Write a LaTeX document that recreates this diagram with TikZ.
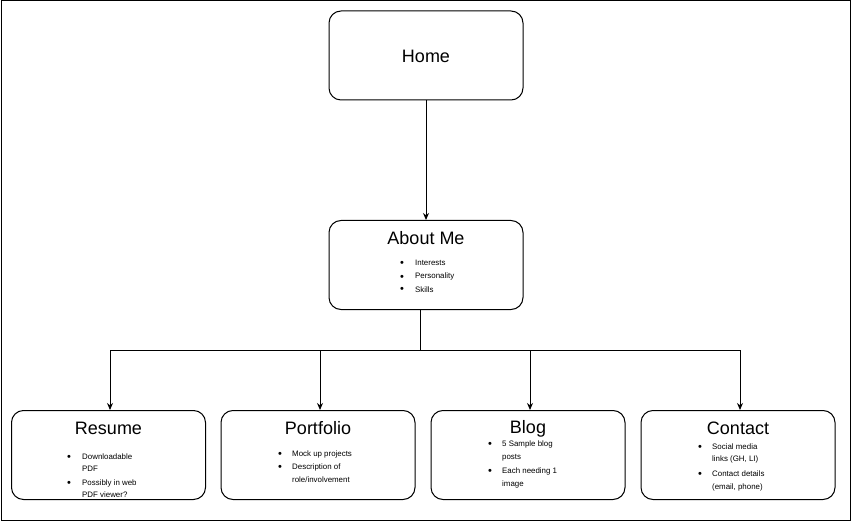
\documentclass[tikz,border=0pt]{standalone}
\usepackage{fontspec}
\setmainfont{Liberation Sans}
\usetikzlibrary{arrows.meta}
\begin{document}
\begin{tikzpicture}[x=1pt,y=-1pt,
  box/.style={draw,line width=1pt,rounded corners=12pt,minimum width=194pt,minimum height=89pt,inner sep=0pt},
  ttl/.style={font=\fontsize{18}{20}\selectfont},
  itm/.style={anchor=base west,inner sep=0pt,font=\fontsize{7.9}{9}\selectfont},
  bul/.style={anchor=base,inner sep=0pt,font=\fontsize{11}{12}\selectfont},
  conn/.style={line width=1pt},
  arr/.style={conn,-{Stealth[length=7pt,width=6pt]}}]
\useasboundingbox (0,0) rectangle (851,521);
\draw[line width=1pt] (1,1) rectangle (850,520);
% boxes
\node[box] (home) at (426,55.5) {};
\node[box] (about) at (426,265) {};
\node[box] (resume) at (108.5,455) {};
\node[box] (portfolio) at (318,455) {};
\node[box] (blog) at (528,455) {};
\node[box] (contact) at (738,455) {};
% titles
\node[ttl] (thome) at (426,56) {Home};
\node[ttl] (tabout) at (426,238.5) {About Me};
\node[ttl] (tres) at (108.5,428.5) {Resume};
\node[ttl] (tport) at (318,428.5) {Portfolio};
\node[ttl] (tblog) at (528,428.5) {Blog};
\node[ttl] (tcont) at (738,428.5) {Contact};
% about items
\node[bul] (ab1) at (402,267) {•};
\node[itm] (a1) at (415,266) {Interests};
\node[bul] (ab2) at (402,280) {•};
\node[itm] (a2) at (415,279) {Personality};
\node[bul] (ab3) at (402,293) {•};
\node[itm] (a3) at (415,292) {Skills};
% resume items
\node[bul] (rb1) at (69,460) {•};
\node[itm] (r1) at (82,459) {Downloadable};
\node[itm] (r2) at (82,471) {PDF};
\node[bul] (rb2) at (69,486) {•};
\node[itm] (r3) at (82,485) {Possibly in web};
\node[itm] (r4) at (82,497) {PDF viewer?};
% portfolio items
\node[bul] (pb1) at (280,457) {•};
\node[itm] (p1) at (292,456) {Mock up projects};
\node[bul] (pb2) at (280,470) {•};
\node[itm] (p2) at (292,469) {Description of};
\node[itm] (p3) at (292,482) {role/involvement};
% blog items
\node[bul] (bb1) at (490,447) {•};
\node[itm] (b1) at (502,446) {5 Sample blog};
\node[itm] (b2) at (502,459) {posts};
\node[bul] (bb2) at (490,474) {•};
\node[itm] (b3) at (502,473) {Each needing 1};
\node[itm] (b4) at (502,486) {image};
% contact items
\node[bul] (cb1) at (700,450) {•};
\node[itm] (c1) at (712,449) {Social media};
\node[itm] (c2) at (712,461) {links (GH, LI)};
\node[bul] (cb2) at (700,477) {•};
\node[itm] (c3) at (712,476) {Contact details};
\node[itm] (c4) at (712,489) {(email, phone)};
% connectors
\draw[arr] (home.south) -- (about.north);
\coordinate (bus) at (420,350);
\draw[conn] (about.south -| bus) -- (bus);
\draw[arr] (bus) -| ([xshift=1.5pt]resume.north);
\draw[arr] (bus) -| ([xshift=2pt]portfolio.north);
\draw[arr] (bus) -| ([xshift=2pt]blog.north);
\draw[arr] (bus) -| ([xshift=2pt]contact.north);
\end{tikzpicture}
\end{document}
